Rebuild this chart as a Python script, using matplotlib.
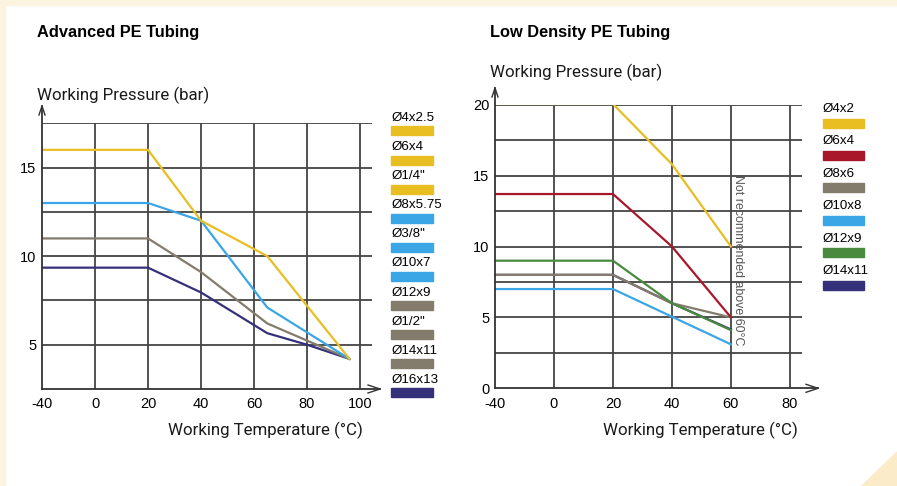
import numpy as np
import matplotlib.pyplot as plt
from matplotlib import font_manager
from matplotlib.patches import Rectangle, Polygon

W, H = 897, 486

# ---- data: Advanced PE Tubing ----
adv_labels = ['Ø4x2.5', 'Ø6x4', 'Ø1/4"', 'Ø8x5.75', 'Ø3/8"', 'Ø10x7',
              'Ø12x9', 'Ø1/2"', 'Ø14x11', 'Ø16x13']
adv_legend_colors = ['#E8BE22', '#E8BE22', '#E8BE22', '#3AA6E6', '#3AA6E6', '#3AA6E6',
                     '#837B6C', '#837B6C', '#837B6C', '#35307A']
adv_yellow_t = [-40, 20, 40, 65, 96]
adv_yellow_p = [16.0, 16.0, 12.0, 10.0, 4.2]
adv_blue_t = [-40, 20, 40, 65, 96]
adv_blue_p = [13.0, 13.0, 12.0, 7.1, 4.2]
adv_gray_t = [-40, 20, 40, 65, 96]
adv_gray_p = [11.0, 11.0, 9.1, 6.2, 4.2]
adv_navy_t = [-40, 20, 40, 65, 80, 96]
adv_navy_p = [9.35, 9.35, 7.95, 5.65, 5.0, 4.2]
adv_xticks = [-40, 0, 20, 40, 60, 80, 100]
adv_yticks = [5, 10, 15]

# ---- data: Low Density PE Tubing ----
ld_labels = ['Ø4x2', 'Ø6x4', 'Ø8x6', 'Ø10x8', 'Ø12x9', 'Ø14x11']
ld_colors = ['#E8BE22', '#A8182A', '#837B6C', '#3AA6E6', '#4A8A3E', '#35307A']
ld_t = [-40, 20, 40, 60]
ld_p = {
    'Ø4x2':   [20.05, 20.05, 15.8, 10.0],
    'Ø6x4':   [13.7, 13.7, 10.0, 5.0],
    'Ø14x11': [8.0, 8.0, 6.0, 4.15],
    'Ø8x6':   [8.0, 8.0, 6.0, 5.0],
    'Ø10x8':  [7.0, 7.0, 5.05, 3.1],
    'Ø12x9':  [9.0, 9.0, 6.0, 4.1],
}
ld_draw_order = ['Ø14x11', 'Ø8x6', 'Ø10x8', 'Ø12x9', 'Ø6x4', 'Ø4x2']
ld_xticks = [-40, 0, 20, 40, 60, 80]
ld_yticks = [0, 5, 10, 15, 20]

GRID = '#444444'

# narrow font if there is one, else Liberation Sans
installed = {f.name for f in font_manager.fontManager.ttflist}
if 'Liberation Sans Narrow' in installed:
    NARROW = ['Liberation Sans Narrow', 'DejaVu Sans']
    nscale = 1.12
else:
    NARROW = ['Liberation Sans', 'DejaVu Sans']
    nscale = 1.0
LIGHT = ['Roboto', 'DejaVu Sans']


def fwd(x):
    x = np.asarray(x, dtype=float)
    return np.where(x < 0, x / 2, x)


def inv(y):
    y = np.asarray(y, dtype=float)
    return np.where(y < 0, y * 2, y)


def fx(px):
    return px / W


def fy(py):
    return 1 - py / H


fig = plt.figure(figsize=(W / 100, H / 100), dpi=100)
fig.patch.set_facecolor('white')

# cream frame bits
fig.patches.append(Rectangle((0, fy(5)), 1, 5 / H, transform=fig.transFigure,
                             color='#FCF4DF', zorder=0))
fig.patches.append(Rectangle((0, 0), 5 / W, 1, transform=fig.transFigure,
                             color='#FCF4DF', zorder=0))
fig.patches.append(Polygon([(fx(897), fy(452)), (fx(862), fy(486)), (fx(897), fy(486))],
                           closed=True, transform=fig.transFigure,
                           color='#FBEBC8', zorder=0))


def setup_axes(rect_px, xlim, ylim, xticks, ygrid, yticks):
    l, t, r, b = rect_px
    ax = fig.add_axes([fx(l), fy(b), (r - l) / W, (b - t) / H])
    ax.set_facecolor('none')
    ax.set_xscale('function', functions=(fwd, inv))
    ax.set_xlim(*xlim)
    ax.set_ylim(*ylim)
    for s in ax.spines.values():
        s.set_visible(False)
    for x in xticks[1:]:
        ax.axvline(x, color=GRID, lw=1.3, zorder=1)
    for y in ygrid:
        ax.axhline(y, color=GRID, lw=1.3, zorder=1)
    ax.set_xticks(xticks)
    ax.set_xticklabels([str(v) for v in xticks], family=NARROW, fontsize=10.5 * nscale)
    ax.set_yticks(yticks)
    ax.set_yticklabels([str(v) for v in yticks], family=NARROW, fontsize=10.5 * nscale)
    ax.tick_params(axis='x', length=0, pad=6)
    ax.tick_params(axis='y', length=0, pad=4)
    return ax


def axis_arrows(x0, y0, x_end, y_end):
    # y axis
    fig.add_artist(plt.Line2D([fx(x0), fx(x0)], [fy(y0), fy(y_end)],
                              transform=fig.transFigure, color='#333333', lw=1.3))
    fig.add_artist(plt.Line2D([fx(x0 - 3), fx(x0), fx(x0 + 3)],
                              [fy(y_end + 9), fy(y_end), fy(y_end + 9)],
                              transform=fig.transFigure, color='#333333', lw=1.0))
    # x axis
    fig.add_artist(plt.Line2D([fx(x0), fx(x_end)], [fy(y0), fy(y0)],
                              transform=fig.transFigure, color='#333333', lw=1.3))
    fig.add_artist(plt.Line2D([fx(x_end - 12), fx(x_end), fx(x_end - 12)],
                              [fy(y0 - 4), fy(y0), fy(y0 + 4)],
                              transform=fig.transFigure, color='#333333', lw=1.0))


# ---- left chart ----
ax1 = setup_axes((42, 123.3, 372, 389), (-40, 104.5), (2.5, 17.5),
                 adv_xticks, [5, 7.5, 10, 12.5, 15, 17.5], adv_yticks)
ax1.plot(adv_navy_t, adv_navy_p, color='#35307A', lw=1.6, zorder=3)
ax1.plot(adv_gray_t, adv_gray_p, color='#837B6C', lw=1.6, zorder=3)
ax1.plot(adv_blue_t, adv_blue_p, color='#3AA6E6', lw=1.6, zorder=3)
ax1.plot(adv_yellow_t, adv_yellow_p, color='#E8BE22', lw=1.6, zorder=3)
axis_arrows(42, 389, 380, 106)

fig.text(fx(37), fy(32), 'Advanced PE Tubing', family=NARROW, fontweight='bold',
         fontsize=11.8 * nscale, va='center', ha='left')
fig.text(fx(37), fy(95), 'Working Pressure (bar)', family=LIGHT,
         fontweight='normal', fontsize=12.2, color='#1a1a1a', va='center', ha='left')
fig.text(fx(363), fy(430), 'Working Temperature (°C)', family=LIGHT,
         fontweight='normal', fontsize=12.2, color='#1a1a1a', va='center', ha='right')

for i, (lab, col) in enumerate(zip(adv_labels, adv_legend_colors)):
    yc = 131 + i * 29.1
    fig.patches.append(Rectangle((fx(391), fy(yc + 4.5)), 42 / W, 9 / H,
                                 transform=fig.transFigure, color=col))
    fig.text(fx(392), fy(yc - 13), lab, family=NARROW, fontsize=9.6 * nscale,
             va='center', ha='left')

# ---- right chart ----
ax2 = setup_axes((495, 104.7, 801.7, 388.3), (-40, 84), (0, 20),
                 ld_xticks, [2.5, 5, 7.5, 10, 12.5, 15, 17.5, 20], ld_yticks)
for name in ld_draw_order:
    ax2.plot(ld_t, ld_p[name], color=ld_colors[ld_labels.index(name)], lw=1.6, zorder=3)
axis_arrows(495, 388.3, 818, 88)

ax2.text(62.4, 9.0, 'Not recommended above 60°C', rotation=-90, family=NARROW,
         fontsize=8.9, color='#555555', va='center', ha='center', zorder=4)

fig.text(fx(490), fy(32), 'Low Density PE Tubing', family=NARROW, fontweight='bold',
         fontsize=11.8 * nscale, va='center', ha='left')
fig.text(fx(490), fy(72), 'Working Pressure (bar)', family=LIGHT,
         fontweight='normal', fontsize=12.2, color='#1a1a1a', va='center', ha='left')
fig.text(fx(798), fy(430), 'Working Temperature (°C)', family=LIGHT,
         fontweight='normal', fontsize=12.2, color='#1a1a1a', va='center', ha='right')

for i, (lab, col) in enumerate(zip(ld_labels, ld_colors)):
    yc = 123 + i * 32.4
    fig.patches.append(Rectangle((fx(823), fy(yc + 4.5)), 41 / W, 9 / H,
                                 transform=fig.transFigure, color=col))
    fig.text(fx(823), fy(yc - 14), lab, family=NARROW, fontsize=9.6 * nscale,
             va='center', ha='left')

fig.savefig('out.png', dpi=100)
